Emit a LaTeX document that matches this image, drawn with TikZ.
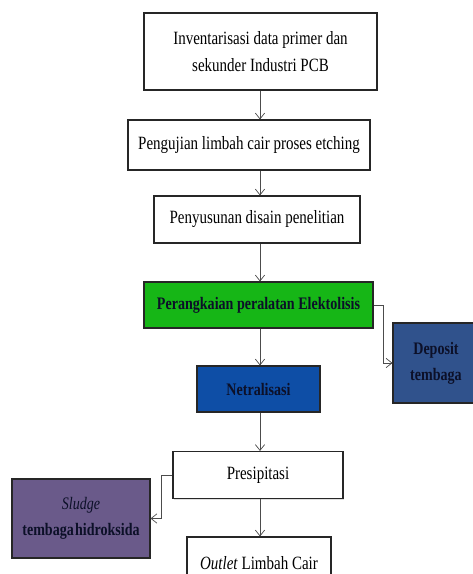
\documentclass[tikz,border=0pt]{standalone}
\usepackage{fontspec}
\setmainfont[FakeStretch=0.8]{Liberation Serif}
\usetikzlibrary{arrows.meta,shadows,positioning,calc}
\definecolor{elgreen}{RGB}{22,182,22}
\definecolor{netblue}{RGB}{14,78,166}
\definecolor{depblue}{RGB}{48,82,140}
\definecolor{sludgepurple}{RGB}{106,90,138}
\definecolor{ink}{RGB}{12,16,40}
\tikzset{
  stepbox/.style={draw=black!85,line width=0.9pt,fill=white,align=center,
    font=\fontsize{16}{23.5}\selectfont,inner sep=2pt,
    drop shadow={opacity=0.25,shadow xshift=1.2pt,shadow yshift=-1.2pt}},
  fillbox/.style={stepbox,text=ink,font=\fontsize{15}{22}\selectfont\bfseries},
  arr/.style={draw=black!70,line width=0.6pt,-{Straight Barb[length=5pt,width=8pt]}}
}

\begin{document}
\begin{tikzpicture}[x=0.03cm,y=-0.03cm]
    \useasboundingbox (0,0) rectangle (473,574);
    \clip (0,0) rectangle (473,574);

    % main chain
    \node[stepbox,minimum width=233*0.03cm,minimum height=77*0.03cm] (inv) at (260.5,51.5)
      {Inventarisasi data primer dan\\sekunder Industri PCB};
    \node[stepbox,minimum width=242*0.03cm,minimum height=50*0.03cm] (uji) at (249,145)
      {Pengujian limbah cair proses etching};
    \node[stepbox,minimum width=206*0.03cm,minimum height=47*0.03cm] (susun) at (257,219.5)
      {Penyusunan disain penelitian};
    \node[fillbox,fill=elgreen,minimum width=229*0.03cm,minimum height=46*0.03cm] (rangkai) at (258.5,305)
      {Perangkaian peralatan Elektolisis};
    \node[fillbox,fill=netblue,minimum width=123*0.03cm,minimum height=46*0.03cm] (netral) at (258.5,389)
      {Netralisasi};
    \node[stepbox,minimum width=170*0.03cm,minimum height=47*0.03cm] (presip) at (258,475)
      {Presipitasi};
    \node[stepbox,minimum width=144*0.03cm,minimum height=52*0.03cm] (outlet) at (259,563)
      {\textit{Outlet} Limbah Cair};

    % side outputs
    \node[fillbox,fill=depblue,minimum width=86*0.03cm,minimum height=80*0.03cm] (deposit) at (436,363)
      {Deposit\\tembaga};
    \node[fillbox,fill=sludgepurple,minimum width=138*0.03cm,minimum height=79*0.03cm] (sludge) at (81,518.5)
      {\textit{\mdseries Sludge}\\tembaga\hspace{1pt}hidroksida};

    % connectors
    \coordinate (spine) at (260,0);
    \draw[arr] (inv.south -| spine) -- (uji.north -| spine);
    \draw[arr] (uji.south -| spine) -- (susun.north -| spine);
    \draw[arr] (susun.south -| spine) -- (rangkai.north -| spine);
    \draw[arr] (rangkai.south -| spine) -- (netral.north -| spine);
    \draw[arr] (netral.south -| spine) -- (presip.north -| spine);
    \draw[arr] (presip.south -| spine) -- (outlet.north -| spine);
    \draw[arr] (rangkai.east) -- ++(10,0) |- (deposit.west);
    \draw[arr] (presip.west) -- ++(-11,0) |- (sludge.east);
  \end{tikzpicture}
\end{document}
